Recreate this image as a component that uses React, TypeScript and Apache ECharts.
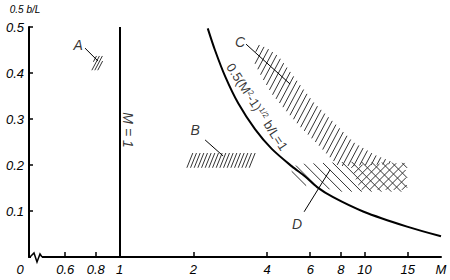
import React, { useEffect, useRef } from "react";
import * as echarts from "echarts";

// ---- data ----
const xTicks = [0.6, 0.8, 1, 2, 4, 6, 8, 10, 15];
const yTicks = [0, 0.1, 0.2, 0.3, 0.4, 0.5];
const xMin = 0.427;
const xMax = 20.5;

// boundary curve 0.5(M^2-1)^(1/2) b/L = 1
const curveM = [2.29, 2.45, 2.7, 3.05, 3.57, 4.18, 5.05, 5.72, 6.4, 7.44, 9.86, 14.9, 20.5];
const curveV = [0.497, 0.45, 0.392, 0.334, 0.278, 0.235, 0.197, 0.175, 0.152, 0.13, 0.099, 0.066, 0.045];

// hatched regions: polygon vertices [M, 0.5 b/L]
const regionA = [[0.765, 0.406], [0.833, 0.406], [0.864, 0.437], [0.794, 0.437]];
const regionB = [[1.85, 0.194], [3.41, 0.194], [3.64, 0.226], [1.96, 0.226]];
const regionC = [
  [3.64, 0.463], [4.0, 0.454], [4.44, 0.437], [4.87, 0.409], [5.35, 0.38], [6.17, 0.337],
  [7.44, 0.294], [8.98, 0.25], [11.0, 0.222], [12.95, 0.207],
  [12.95, 0.202], [8.73, 0.198], [7.8, 0.198], [6.46, 0.244], [5.46, 0.283], [4.74, 0.32],
  [4.19, 0.354], [3.82, 0.389], [3.54, 0.424],
];
const regionD = [
  [4.87, 0.176], [5.3, 0.202], [8.73, 0.207], [14.91, 0.2045], [14.91, 0.142],
  [7.94, 0.142], [6.17, 0.155], [5.35, 0.155],
];
const regionE = [[8.73, 0.2], [14.63, 0.2045], [14.91, 0.146], [9.59, 0.146]];

// region labels and leader lines
const labelNames = ["A", "B", "C", "D"];
const labelM = [0.677, 2.033, 3.103, 5.303];
const labelV = [0.4605, 0.276, 0.467, 0.0722];
const leaderFromM = [0.723, 2.234, 3.283, 5.664];
const leaderFromV = [0.454, 0.2545, 0.4627, 0.0983];
const leaderToM = [0.817, 2.646, 4.965, 7.231];
const leaderToV = [0.4258, 0.2197, 0.376, 0.1894];

const curveLabelPos = [3.641, 0.326];
const m1LabelPos = [1.083, 0.276];

// ---- styles ----
const FONT = "'Liberation Sans', Arial, Helvetica, sans-serif";
const hatchStyles: Record<string, { angle: number; gap: number }> = {
  A: { angle: 62, gap: 2.6 },
  B: { angle: 68, gap: 3.4 },
  C: { angle: 62, gap: 5 },
  D: { angle: -45, gap: 7 },
  E: { angle: 45, gap: 5.7 },
};

function hatchSegments(pts: number[][], angleDeg: number, gap: number) {
  const a = (angleDeg * Math.PI) / 180;
  const dx = Math.cos(a);
  const dy = -Math.sin(a);
  const nx = -dy;
  const ny = dx;
  const ps = pts.map((p) => nx * p[0] + ny * p[1]);
  const pmin = Math.min(...ps);
  const pmax = Math.max(...ps);
  const segs: number[][] = [];
  for (let t = pmin + gap / 2; t < pmax; t += gap) {
    const hits: { x: number; y: number; s: number }[] = [];
    for (let i = 0; i < pts.length; i++) {
      const j = (i + 1) % pts.length;
      const pa = ps[i];
      const pb = ps[j];
      if ((pa - t) * (pb - t) < 0) {
        const f = (t - pa) / (pb - pa);
        const x = pts[i][0] + f * (pts[j][0] - pts[i][0]);
        const y = pts[i][1] + f * (pts[j][1] - pts[i][1]);
        hits.push({ x, y, s: dx * x + dy * y });
      }
    }
    hits.sort((u, v) => u.s - v.s);
    for (let k = 0; k + 1 < hits.length; k += 2) {
      segs.push([hits[k].x, hits[k].y, hits[k + 1].x, hits[k + 1].y]);
    }
  }
  return segs;
}

function hatchSeries(region: number[][], key: string) {
  const st = hatchStyles[key];
  return {
    type: "custom",
    coordinateSystem: "cartesian2d",
    silent: true,
    clip: false,
    data: [[1, 0.3]],
    renderItem: (_params: any, api: any) => {
      const px = region.map((p) => api.coord(p));
      const segs = hatchSegments(px, st.angle, st.gap);
      return {
        type: "group",
        children: segs.map((s) => ({
          type: "line",
          shape: { x1: s[0], y1: s[1], x2: s[2], y2: s[3] },
          style: { stroke: "#333", lineWidth: 1 },
        })),
      };
    },
  };
}

export default function App() {
  const ref = useRef<HTMLDivElement>(null);
  useEffect(() => {
    if (!ref.current) return;
    const chart = echarts.init(ref.current, null, { renderer: "svg" });
    const labelFont = { fontFamily: FONT, fontStyle: "italic", fontSize: 13, color: "#000" };
    const option = {
      animation: false,
      grid: { left: 29, right: 9, top: 27, bottom: 23 },
      xAxis: {
        type: "log",
        logBase: 10,
        min: xMin,
        max: xMax,
        axisLine: { lineStyle: { color: "#000", width: 2 } },
        axisTick: { inside: true, length: 5, lineStyle: { color: "#000", width: 1.5 }, customValues: xTicks },
        minorTick: { show: false },
        splitLine: { show: false },
        axisLabel: {
          ...labelFont,
          margin: 6,
          customValues: [xMin * 1.0005, ...xTicks, xMax * 0.9995],
          formatter: (v: number) => {
            if (v < 0.5) return "{z|0}";
            if (v > xMax * 0.99) return "M";
            return String(v);
          },
          rich: { z: { ...labelFont, padding: [0, 18, 0, 0] } },
        },
      },
      yAxis: {
        type: "value",
        min: 0,
        max: 0.5,
        interval: 0.1,
        name: "0.5 b/L",
        nameLocation: "end",
        nameGap: 13,
        nameTextStyle: { fontFamily: FONT, fontStyle: "italic", fontSize: 10, color: "#000", align: "center", padding: [0, 8, 0, 0] },
        axisLine: { show: true, lineStyle: { color: "#000", width: 2 } },
        axisTick: { inside: true, length: 4, lineStyle: { color: "#000", width: 1.5 } },
        splitLine: { show: false },
        axisLabel: {
          ...labelFont,
          margin: 5,
          formatter: (v: number) => (v === 0 || !yTicks.includes(Math.round(v * 10) / 10) ? "" : v.toFixed(1)),
        },
      },
      series: [
        hatchSeries(regionA, "A"),
        hatchSeries(regionB, "B"),
        hatchSeries(regionC, "C"),
        hatchSeries(regionD, "D"),
        hatchSeries(regionE, "E"),
        {
          type: "line",
          data: curveM.map((m, i) => [m, curveV[i]]),
          smooth: 0.3,
          symbol: "none",
          lineStyle: { color: "#000", width: 2 },
          markLine: {
            silent: true,
            symbol: "none",
            label: { show: false },
            lineStyle: { color: "#000", width: 2, type: "solid" },
            data: [{ xAxis: 1 }],
          },
          z: 5,
        },
        {
          type: "custom",
          coordinateSystem: "cartesian2d",
          silent: true,
          clip: false,
          data: leaderFromM.map((m, i) => [m, leaderFromV[i], leaderToM[i], leaderToV[i]]),
          renderItem: (_params: any, api: any) => {
            const p1 = api.coord([api.value(0), api.value(1)]);
            const p2 = api.coord([api.value(2), api.value(3)]);
            return {
              type: "line",
              shape: { x1: p1[0], y1: p1[1], x2: p2[0], y2: p2[1] },
              style: { stroke: "#000", lineWidth: 1 },
            };
          },
          z: 6,
        },
        {
          type: "scatter",
          symbol: "circle",
          symbolSize: 1,
          itemStyle: { color: "transparent" },
          silent: true,
          data: labelNames.map((n, i) => ({ name: n, value: [labelM[i], labelV[i]] })),
          label: {
            show: true,
            position: "inside",
            formatter: (p: any) => p.name,
            ...labelFont,
            fontSize: 14,
          },
          z: 7,
        },
        {
          type: "scatter",
          symbol: "circle",
          symbolSize: 1,
          itemStyle: { color: "transparent" },
          silent: true,
          data: [
            {
              value: curveLabelPos,
              label: {
                show: true,
                position: "inside",
                rotate: -57,
                formatter: "0.5(M{sup|2}-1){sup|1/2} b/L=1",
                fontFamily: FONT,
                fontSize: 13,
                color: "#000",
                rich: { sup: { fontFamily: FONT, fontSize: 8, color: "#000", verticalAlign: "top" } },
              },
            },
            {
              value: m1LabelPos,
              label: {
                show: true,
                position: "inside",
                rotate: -90,
                formatter: "M = 1",
                ...labelFont,
                fontSize: 14,
              },
            },
          ],
          z: 7,
        },
      ],
      graphic: [
        { type: "rect", shape: { x: 31, y: 253, width: 11, height: 8 }, style: { fill: "#fff" }, z: 100 },
        {
          type: "polyline",
          shape: { points: [[30, 257], [34, 253], [37, 262], [40, 254], [42, 257]] },
          style: { stroke: "#000", lineWidth: 1.5, fill: null },
          z: 101,
        },
      ],
    };
    chart.setOption(option as any);
    return () => chart.dispose();
  }, []);
  return <div ref={ref} style={{ position: "fixed", left: 0, top: 0, width: 450, height: 280, background: "#fff" }} />;
}
